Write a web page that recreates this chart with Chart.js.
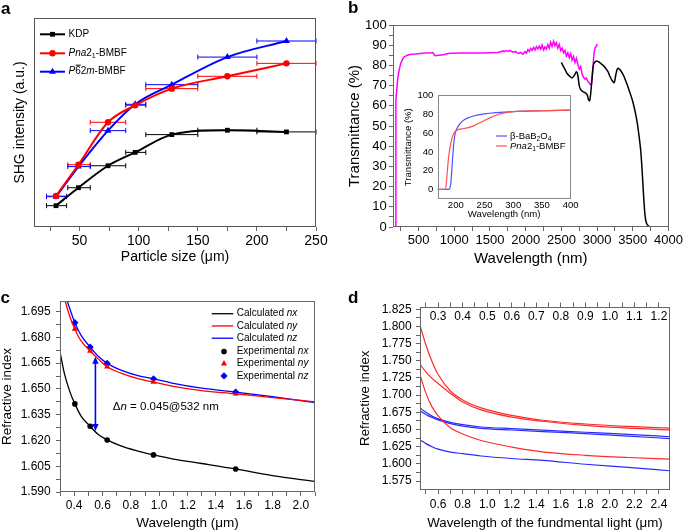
<!DOCTYPE html>
<html><head><meta charset="utf-8">
<script src="https://cdn.jsdelivr.net/npm/chart.js@4.4.1/dist/chart.umd.min.js"></script>
<style>
html,body{margin:0;padding:0;background:#fff;}
body{width:685px;height:532px;position:relative;overflow:hidden;}
canvas{position:absolute;}
</style></head><body>
<canvas id="ca"></canvas><canvas id="cb"></canvas><canvas id="cbi"></canvas><canvas id="cc"></canvas><canvas id="cd"></canvas>
<script>
const FONT = "'Liberation Sans', Arial, Helvetica, sans-serif";

// ---------- Panel a: SHG intensity vs particle size ----------
const aSize   = [30, 49, 74, 97, 128, 175, 225];
const aSizeLo = [22, 40, 59, 89, 106, 150, 200];
const aSizeHi = [39, 59, 89, 106, 150, 200, 250];
const aKDP    = [10.2, 18.8, 29.3, 35.7, 44.2, 46.3, 45.5];
const aPna21  = [14.8, 29.8, 50.1, 58.2, 66.2, 72.1, 78.3];
const aP62m   = [14.5, 28.9, 46.1, 58.7, 68.1, 81.3, 89.0];
const aXLabels = ['50', '100', '150', '200', '250'];

// ---------- Panel b: transmittance ----------
const bMagX = [178, 181, 184, 195, 210, 230, 250, 275, 300, 350, 400, 450, 500, 550, 600, 650, 700, 720, 740, 780, 820, 860, 900, 950, 1000, 1100, 1200, 1300, 1400, 1500, 1600, 1650, 1680, 1700, 1720, 1750, 1780, 1800, 1830, 1860, 1880, 1900, 1930, 1960, 1990, 2010, 2030, 2050, 2070, 2090, 2110, 2130, 2150, 2170, 2190, 2210, 2230, 2250, 2270, 2290, 2310, 2330, 2350, 2370, 2390, 2410, 2430, 2450, 2470, 2490, 2510, 2530, 2550, 2570, 2590, 2610, 2630, 2650, 2670, 2690, 2710, 2730, 2750, 2770, 2790, 2810, 2830, 2850, 2870, 2890, 2910, 2925, 2940, 2955, 2970, 2985, 3000];
const bMagY = [0, 40, 63, 68, 74, 78, 81, 83, 84.3, 85.2, 85.5, 85.6, 85.8, 86, 86.2, 86.2, 86.4, 85.2, 84.8, 85, 85.2, 85.4, 85.8, 86, 86, 86.1, 86.1, 86.2, 86.2, 86.3, 86.4, 86.8, 87.2, 86.8, 87.3, 86.9, 87.4, 86.9, 86.6, 86.8, 86.2, 85.9, 86.4, 85.5, 86.8, 86.1, 87.8, 86.9, 88.4, 87.5, 88.9, 87.6, 89.3, 88.2, 89.5, 88, 90.1, 87.7, 89.2, 88.1, 90.3, 88.6, 91.5, 89.4, 92, 89.8, 91.3, 88.6, 90.4, 87.4, 88.6, 86.2, 87.5, 84.6, 86.3, 83.8, 85.9, 82.7, 84.4, 81.4, 83.5, 80.6, 78.2, 79.5, 75.6, 74.1, 73.2, 73.8, 72.1, 71.3, 70.4, 71.5, 78.5, 85.5, 88.7, 89.2, 90.6];
const bBlkX = [2500, 2520, 2550, 2580, 2620, 2650, 2680, 2710, 2730, 2750, 2770, 2800, 2830, 2860, 2880, 2895, 2910, 2930, 2950, 2980, 3010, 3050, 3100, 3150, 3180, 3210, 3240, 3260, 3280, 3300, 3330, 3370, 3410, 3450, 3500, 3550, 3580, 3610, 3630, 3650, 3670, 3690, 3720, 3760, 4000];
const bBlkY = [81.5, 80, 78, 76, 74.5, 73.8, 75, 76.8, 75, 70, 68, 67, 66.5, 65.5, 63, 62.5, 66, 74, 80.5, 82, 82, 81, 79.5, 77, 74.5, 72.5, 71.5, 75, 78, 78.5, 77.5, 75, 71.5, 67.5, 62, 54, 47, 38, 28, 16, 6, 2, 0.5, 0, 0];
const bXLabels = ['500', '1000', '1500', '2000', '2500', '3000', '3500', '4000'];
const bYLabels = ['0', '10', '20', '30', '40', '50', '60', '70', '80', '90', '100'];

// inset
const iBboX = [168, 186, 189, 191, 193, 195, 197, 199, 202, 206, 212, 220, 232, 250, 270, 300, 340, 400];
const iBboY = [0, 0, 0.5, 5, 20, 38, 52, 60, 65, 69, 73, 76, 78.5, 80.5, 81.8, 83, 83.8, 84.5];
const iPnaX = [168, 182, 184, 186, 188, 191, 194, 198, 203, 210, 220, 230, 240, 250, 260, 270, 285, 300, 340, 400];
const iPnaY = [0, 0, 10, 25, 37, 48, 56, 61, 63.5, 64.5, 65.5, 67.5, 70.5, 73.5, 76.5, 79, 81.5, 82.8, 83.8, 84.5];
const iXLabels = ['200', '250', '300', '350', '400'];
const iYLabels = ['0', '20', '40', '60', '80', '100'];

// ---------- Panel c: refractive index dispersion ----------
const cNxX = [0.3, 0.334, 0.37, 0.405, 0.45, 0.5, 0.57, 0.63, 0.73, 0.85, 0.96, 1.1, 1.3, 1.54, 1.8, 2.1];
const cNxY = [1.6715, 1.658, 1.6483, 1.6413, 1.634, 1.6293, 1.6235, 1.6205, 1.6168, 1.6138, 1.6116, 1.6092, 1.6066, 1.6034, 1.5995, 1.5962];
const cNyX = [0.3, 0.334, 0.37, 0.405, 0.45, 0.513, 0.57, 0.633, 0.73, 0.85, 0.96, 1.1, 1.3, 1.54, 1.8, 2.1];
const cNyY = [1.715, 1.702, 1.692, 1.6848, 1.6778, 1.6721, 1.6675, 1.6629, 1.6592, 1.656, 1.654, 1.6515, 1.649, 1.6472, 1.645, 1.6425];
const cNzX = [0.32, 0.345, 0.37, 0.405, 0.45, 0.513, 0.57, 0.633, 0.73, 0.85, 0.96, 1.1, 1.3, 1.54, 1.8, 2.1];
const cNzY = [1.716, 1.7035, 1.6965, 1.6886, 1.681, 1.6744, 1.669, 1.6649, 1.661, 1.6578, 1.6559, 1.6533, 1.6505, 1.6482, 1.6455, 1.642];
const cExpX  = [0.405, 0.513, 0.633, 0.96, 1.54];
const cExpNx = [1.6413, 1.6283, 1.6203, 1.6116, 1.6034];
const cExpNy = [1.6850, 1.6721, 1.6629, 1.6540, 1.6472];
const cExpNz = [1.6886, 1.6744, 1.6649, 1.6559, 1.6482];
const cArrow = {x: 0.55, top: 1.6688, bottom: 1.6255};
const cXLabels = ['0.4', '0.6', '0.8', '1.0', '1.2', '1.4', '1.6', '1.8', '2.0'];
const cYLabels = ['1.590', '1.605', '1.620', '1.635', '1.650', '1.665', '1.680', '1.695'];

// ---------- Panel d: phase matching curves ----------
const dX  = [0.455, 0.5, 0.55, 0.6, 0.7, 0.8, 0.95, 1.2, 1.45, 1.8, 2.15, 2.49];
const dR1 = [1.800, 1.773, 1.749, 1.730, 1.706, 1.693, 1.6815, 1.6705, 1.6635, 1.658, 1.6545, 1.652];
const dR2 = [1.744, 1.734, 1.7245, 1.717, 1.7025, 1.690, 1.6785, 1.668, 1.662, 1.656, 1.652, 1.6495];
const dR3 = [1.728, 1.703, 1.683, 1.670, 1.6525, 1.6435, 1.634, 1.6245, 1.6176, 1.6125, 1.6093, 1.607];
const dB1 = [1.681, 1.675, 1.6695, 1.6655, 1.6605, 1.657, 1.6537, 1.6513, 1.649, 1.646, 1.643, 1.6395];
const dB2 = [1.677, 1.672, 1.6675, 1.664, 1.6585, 1.655, 1.6517, 1.6493, 1.647, 1.644, 1.6405, 1.6368];
const dB3 = [1.6345, 1.6295, 1.625, 1.6215, 1.6172, 1.6148, 1.6115, 1.6078, 1.605, 1.5995, 1.5948, 1.590];
const dXLabels  = ['0.6', '0.8', '1.0', '1.2', '1.4', '1.6', '1.8', '2.0', '2.2', '2.4'];
const dX2Labels = ['0.3', '0.4', '0.5', '0.6', '0.7', '0.8', '0.9', '1.0', '1.1', '1.2'];
const dYLabels  = ['1.575', '1.600', '1.625', '1.650', '1.675', '1.700', '1.725', '1.750', '1.775', '1.800', '1.825'];

// ================= helpers =================
Chart.defaults.font.family = FONT;
Chart.defaults.color = '#000';

function steps(a, b, s) { const out = []; const n = Math.round((b - a) / s); for (let i = 0; i <= n; i++) out.push(+(a + i * s).toFixed(6)); return out; }
const pts = (xs, ys) => xs.map((x, i) => ({x: x, y: ys[i]}));

function ax(o) {
  const vals = o.labels ? o.labels.map(Number) : [];
  return {
    type: 'linear', position: o.pos, min: o.min, max: o.max, offset: false,
    afterBuildTicks: s => { s.ticks = (o.ticks || [o.min, o.max]).map(v => ({value: v})); },
    afterFit: s => { if (o.pos === 'top' || o.pos === 'bottom') s.height = o.size; else s.width = o.size; },
    grid: {display: !!o.ticks && o.tl > 0, drawOnChartArea: false, drawTicks: o.tl > 0, tickLength: o.tl || 0, color: '#666', lineWidth: 1},
    border: {display: false},
    ticks: {display: !!o.labels, autoSkip: false, maxRotation: 0, minRotation: 0, padding: o.pad || 0, mirror: !!o.mirror, color: '#000',
      font: {size: o.font || 12, family: FONT},
      callback: (v) => { const i = vals.findIndex(l => Math.abs(l - v) < 1e-7); return i < 0 ? '' : o.labels[i]; }},
    title: o.title ? {display: true, text: o.title, color: '#000', font: {size: o.tfont, family: FONT, lineHeight: 1.2}, padding: {top: o.tpad, bottom: o.tpad}} : {display: false}
  };
}

function rich(ctx, x, y, parts, size, color) {
  ctx.save(); ctx.fillStyle = color || '#000'; ctx.textBaseline = 'middle'; ctx.textAlign = 'left';
  let cx = x;
  for (const p of parts) {
    const fs = p.sub ? size * 0.7 : size;
    ctx.font = (p.i ? 'italic ' : '') + fs + 'px ' + FONT;
    const dy = p.sub ? size * 0.3 : 0;
    ctx.fillText(p.t, cx, y + dy);
    const w = ctx.measureText(p.t).width;
    if (p.bar) ctx.fillRect(cx + 0.5, y - size * 0.45 - 2.5, w - 0.5, 1);
    cx += w;
  }
  ctx.restore();
}

function marker(ctx, style, x, y, r, color) {
  ctx.save(); ctx.fillStyle = color; ctx.strokeStyle = color; ctx.lineWidth = 1;
  ctx.beginPath();
  if (style === 'rect') { const s = r * Math.SQRT1_2; ctx.rect(x - s, y - s, 2 * s, 2 * s); }
  else if (style === 'circle') { ctx.arc(x, y, r, 0, Math.PI * 2); }
  else if (style === 'triangle') { const h = r * 1.5, w = r * 1.732 / 2 * 1.0; ctx.moveTo(x, y - r); ctx.lineTo(x + r * 0.866, y + r * 0.5); ctx.lineTo(x - r * 0.866, y + r * 0.5); ctx.closePath(); }
  else if (style === 'rectRot') { ctx.moveTo(x, y - r); ctx.lineTo(x + r, y); ctx.lineTo(x, y + r); ctx.lineTo(x - r, y); ctx.closePath(); }
  ctx.fill(); ctx.restore();
}

const framePlugin = (color) => ({id: 'frame', afterDatasetsDraw(ch) {
  const a = ch.chartArea, c = ch.ctx; c.save(); c.strokeStyle = color; c.lineWidth = 1;
  c.strokeRect(Math.round(a.left) + 0.5, Math.round(a.top) + 0.5, Math.round(a.right) - Math.round(a.left) - 1, Math.round(a.bottom) - Math.round(a.top) - 1);
  c.restore(); }});

const labelPlugin = (box, txt, px, py) => ({id: 'plabel', afterDraw(ch) {
  const c = ch.ctx; c.save(); c.font = 'bold 17px ' + FONT; c.fillStyle = '#000'; c.textBaseline = 'alphabetic';
  c.fillText(txt, px - box.x, py - box.y); c.restore(); }});

function mkChart(id, box, area, datasets, scales, plugins) {
  const cv = document.getElementById(id);
  cv.width = box.w; cv.height = box.h;
  Object.assign(cv.style, {left: box.x + 'px', top: box.y + 'px', width: box.w + 'px', height: box.h + 'px'});
  return new Chart(cv, {
    type: 'line',
    data: {datasets: datasets},
    options: {
      responsive: false, animation: false, devicePixelRatio: 1, events: [],
      layout: {padding: {left: 0, top: area.t - box.y, right: box.x + box.w - area.r, bottom: 0}},
      plugins: {legend: {display: false}, tooltip: {enabled: false}},
      scales: scales
    },
    plugins: plugins
  });
}
const curve = (xs, ys, color, w) => ({data: pts(xs, ys), borderColor: color, backgroundColor: color, borderWidth: w || 1.3, pointRadius: 0, cubicInterpolationMode: 'monotone', fill: false});
const scatter = (xs, ys, color, style, r) => ({data: pts(xs, ys), showLine: false, pointStyle: style, pointRadius: r, pointBackgroundColor: color, pointBorderColor: color, pointBorderWidth: 0, borderColor: color, backgroundColor: color});

// ================= Panel a =================
(function () {
  const box = {x: 0, y: 0, w: 340, h: 266}, area = {l: 34, t: 18, r: 316, b: 227};
  const mkS = (ys, color, style, r, lo, hi) => ({data: pts(aSize, ys), borderColor: color, backgroundColor: color, borderWidth: 2,
    pointStyle: style, pointRadius: r, pointBackgroundColor: color, pointBorderColor: color, pointBorderWidth: 0,
    cubicInterpolationMode: 'monotone', fill: false, xLo: lo, xHi: hi});
  const ds = [mkS(aKDP, '#000000', 'rect', 3.4, aSizeLo, aSizeHi), mkS(aPna21, '#ff0000', 'circle', 3.2, aSizeLo, aSizeHi), mkS(aP62m, '#0000ff', 'triangle', 4, aSizeLo, aSizeHi)];
  const errPlugin = {id: 'err', beforeDatasetsDraw(ch) {
    const c = ch.ctx, xs = ch.scales.x, ys = ch.scales.y;
    ch.data.datasets.forEach(d => { c.save(); c.strokeStyle = d.borderColor; c.lineWidth = 1; c.beginPath();
      d.data.forEach((p, i) => { const y = ys.getPixelForValue(p.y), x1 = xs.getPixelForValue(d.xLo[i]), x2 = xs.getPixelForValue(d.xHi[i]);
        c.moveTo(x1, y); c.lineTo(x2, y); c.moveTo(x1, y - 2.5); c.lineTo(x1, y + 2.5); c.moveTo(x2, y - 2.5); c.lineTo(x2, y + 2.5); });
      c.stroke(); c.restore(); }); }};
  const legPlugin = {id: 'leg', afterDraw(ch) {
    const c = ch.ctx;
    const items = [
      {color: '#000000', style: 'rect', r: 3.4, parts: [{t: 'KDP'}]},
      {color: '#ff0000', style: 'circle', r: 3.2, parts: [{t: 'Pna', i: true}, {t: '2'}, {t: '1', sub: true}, {t: '-BMBF'}]},
      {color: '#0000ff', style: 'triangle', r: 4, parts: [{t: 'P', i: true}, {t: '6', bar: true}, {t: '2'}, {t: 'm', i: true}, {t: '-BMBF'}]}];
    const ys = [34.3, 53.3, 71.7];
    items.forEach((it, k) => { const y = ys[k]; c.save(); c.strokeStyle = it.color; c.lineWidth = 2; c.beginPath(); c.moveTo(40, y); c.lineTo(65, y); c.stroke(); c.restore();
      marker(c, it.style, 52.5, y, it.r, it.color); rich(c, 68.5, y, it.parts, 10); }); }};
  mkChart('ca', box, area, ds, {
    x: ax({pos: 'bottom', min: 11.4, max: 250, ticks: steps(25, 250, 25), labels: aXLabels, tl: 4, pad: 1.3, font: 14, size: 39, title: 'Particle size (\u03bcm)', tfont: 14, tpad: 0}),
    y: ax({pos: 'left', min: 0, max: 100, size: 34, title: 'SHG intensity (a.u.)', tfont: 14, tpad: 11.6})
  }, [errPlugin, framePlugin('#555'), legPlugin, labelPlugin(box, 'a', 1, 13.5)]);
})();

// ================= Panel b =================
(function () {
  const box = {x: 340, y: 0, w: 345, h: 266}, area = {l: 393, t: 25, r: 671, b: 227};
  const ds = [curve(bBlkX, bBlkY, '#000000', 1.5), Object.assign(curve(bMagX, bMagY, '#ff00ff', 1.5), {cubicInterpolationMode: 'default', tension: 0})];
  ds[0].cubicInterpolationMode = 'default'; ds[0].tension = 0.3;
  mkChart('cb', box, area, ds, {
    x: ax({pos: 'bottom', min: 142, max: 4000, ticks: steps(250, 4000, 250), labels: bXLabels, tl: 4, pad: 2, font: 13, size: 39, title: 'Wavelength (nm)', tfont: 15, tpad: -2.3}),
    y: ax({pos: 'left', min: 0, max: 100, ticks: steps(0, 100, 5), labels: bYLabels, tl: 4, pad: 2.3, font: 13, size: 53, title: 'Transmittance (%)', tfont: 15, tpad: 6})
  }, [framePlugin('#666'), labelPlugin(box, 'b', 348, 13.3)]);
})();

// ================= Panel b inset =================
(function () {
  const box = {x: 390, y: 85, w: 190, h: 140}, area = {l: 437.7, t: 94, r: 570.7, b: 199.3};
  const ds = [curve(iPnaX, iPnaY, '#ff5050', 1.2), curve(iBboX, iBboY, '#5050ff', 1.2)];
  const legPlugin = {id: 'ileg', afterDraw(ch) {
    const c = ch.ctx;
    [[136, '#5050ff', [{t: '\u03b2-BaB'}, {t: '2', sub: true}, {t: 'O'}, {t: '4', sub: true}]],
     [146, '#ff5050', [{t: 'Pna', i: true}, {t: '2'}, {t: '1', sub: true}, {t: '-BMBF'}]]].forEach(([y, col, parts]) => {
      c.save(); c.strokeStyle = col; c.lineWidth = 1.2; c.beginPath(); c.moveTo(496 - box.x, y - box.y); c.lineTo(507 - box.x, y - box.y); c.stroke(); c.restore();
      rich(c, 510 - box.x, y - box.y, parts, 9.5); }); }};
  mkChart('cbi', box, area, ds, {
    x: ax({pos: 'bottom', min: 168.5, max: 400, ticks: steps(200, 400, 50), labels: iXLabels, tl: 0, pad: 0, font: 9.5, size: 25.7, title: 'Wavelength (nm)', tfont: 9.6, tpad: 5.3}),
    y: ax({pos: 'left', min: -10.5, max: 100.5, ticks: steps(0, 100, 20), labels: iYLabels, tl: 0, pad: 4.4, font: 9.5, size: 47.7, title: 'Transmittance (%)', tfont: 9.6, tpad: 12.6})
  }, [framePlugin('#888'), legPlugin]);
})();

// ================= Panel c =================
(function () {
  const box = {x: 0, y: 266, w: 340, h: 266}, area = {l: 60, t: 301, r: 315, b: 492};
  const ds = [curve(cNxX, cNxY, '#000000', 1.3), curve(cNyX, cNyY, '#ff0000', 1.3), curve(cNzX, cNzY, '#0000ff', 1.3),
    scatter(cExpX, cExpNx, '#000000', 'circle', 2.8), scatter(cExpX, cExpNy, '#ff0000', 'triangle', 3.6), scatter(cExpX, cExpNz, '#0000ff', 'rectRot', 3.6)];
  const annPlugin = {id: 'ann', afterDatasetsDraw(ch) {
    const c = ch.ctx, xs = ch.scales.x, ys = ch.scales.y;
    const x = xs.getPixelForValue(cArrow.x), y1 = ys.getPixelForValue(cArrow.top), y2 = ys.getPixelForValue(cArrow.bottom);
    c.save(); c.strokeStyle = '#0000ff'; c.fillStyle = '#0000ff'; c.lineWidth = 1.6;
    c.beginPath(); c.moveTo(x, y1 + 5); c.lineTo(x, y2 - 5); c.stroke();
    c.beginPath(); c.moveTo(x, y1); c.lineTo(x + 3.2, y1 + 7); c.lineTo(x - 3.2, y1 + 7); c.closePath(); c.fill();
    c.beginPath(); c.moveTo(x, y2); c.lineTo(x + 3.2, y2 - 7); c.lineTo(x - 3.2, y2 - 7); c.closePath(); c.fill();
    c.restore();
    rich(c, xs.getPixelForValue(0.673), ys.getPixelForValue(1.6398), [{t: '\u0394'}, {t: 'n', i: true}, {t: ' = 0.045@532 nm'}], 11.5);
    // legend
    const lx = 236.7, ly0 = 313.7 - box.y, dy = 12.25;
    [['#000000', 'nx'], ['#ff0000', 'ny'], ['#0000ff', 'nz']].forEach(([col, s], k) => {
      const y = ly0 + k * dy; c.save(); c.strokeStyle = col; c.lineWidth = 1.3; c.beginPath(); c.moveTo(211.7, y); c.lineTo(233.3, y); c.stroke(); c.restore();
      rich(c, lx, y, [{t: 'Calculated '}, {t: s, i: true}], 10); });
    [['#000000', 'nx', 'circle', 2.8], ['#ff0000', 'ny', 'triangle', 3.6], ['#0000ff', 'nz', 'rectRot', 3.6]].forEach(([col, s, st, r], k) => {
      const y = ly0 + (k + 3) * dy + 1; marker(c, st, 224, y, r, col); rich(c, lx, y, [{t: 'Experimental '}, {t: s, i: true}], 10); });
  }};
  mkChart('cc', box, area, ds, {
    x: ax({pos: 'bottom', min: 0.3, max: 2.1, ticks: steps(0.3, 2.1, 0.1), labels: cXLabels, tl: 4, pad: 2.8, font: 12, size: 40, title: 'Wavelength (\u03bcm)', tfont: 13.5, tpad: 0.2}),
    y: ax({pos: 'left', min: 1.590, max: 1.7012, ticks: steps(1.590, 1.695, 0.0075), labels: cYLabels, tl: 4, pad: 5.3, font: 12, size: 60, title: 'Refractive index', tfont: 13.5, tpad: -0.8})
  }, [framePlugin('#666'), annPlugin, labelPlugin(box, 'c', 0.5, 302.7)]);
})();

// ================= Panel d =================
(function () {
  const box = {x: 340, y: 266, w: 345, h: 266}, area = {l: 420, t: 306.5, r: 670, b: 490};
  const ds = [curve(dX, dR1, '#ff2a2a', 1.2), curve(dX, dR2, '#ff2a2a', 1.2), curve(dX, dR3, '#ff2a2a', 1.2),
    curve(dX, dB1, '#2a2aff', 1.2), curve(dX, dB2, '#2a2aff', 1.2), curve(dX, dB3, '#2a2aff', 1.2)];
  mkChart('cd', box, area, ds, {
    x: ax({pos: 'bottom', min: 0.452, max: 2.49, ticks: steps(0.5, 2.4, 0.1), labels: dXLabels, tl: 4, pad: 3.5, font: 12, size: 42, title: 'Wavelength of the fundmental light (\u03bcm)', tfont: 13.3, tpad: 0.7}),
    x2: ax({pos: 'top', min: 0.226, max: 1.245, ticks: steps(0.25, 1.2, 0.05), labels: dX2Labels, tl: 4, pad: 3, font: 12, size: 0, mirror: true}),
    y: ax({pos: 'left', min: 1.562, max: 1.829, ticks: steps(1.575, 1.825, 0.0125), labels: dYLabels, tl: 4, pad: 4.3, font: 12, size: 80, title: 'Refractive index', tfont: 13.3, tpad: 17})
  }, [framePlugin('#666'), labelPlugin(box, 'd', 348, 302.7)]);
})();
</script>
</body></html>
